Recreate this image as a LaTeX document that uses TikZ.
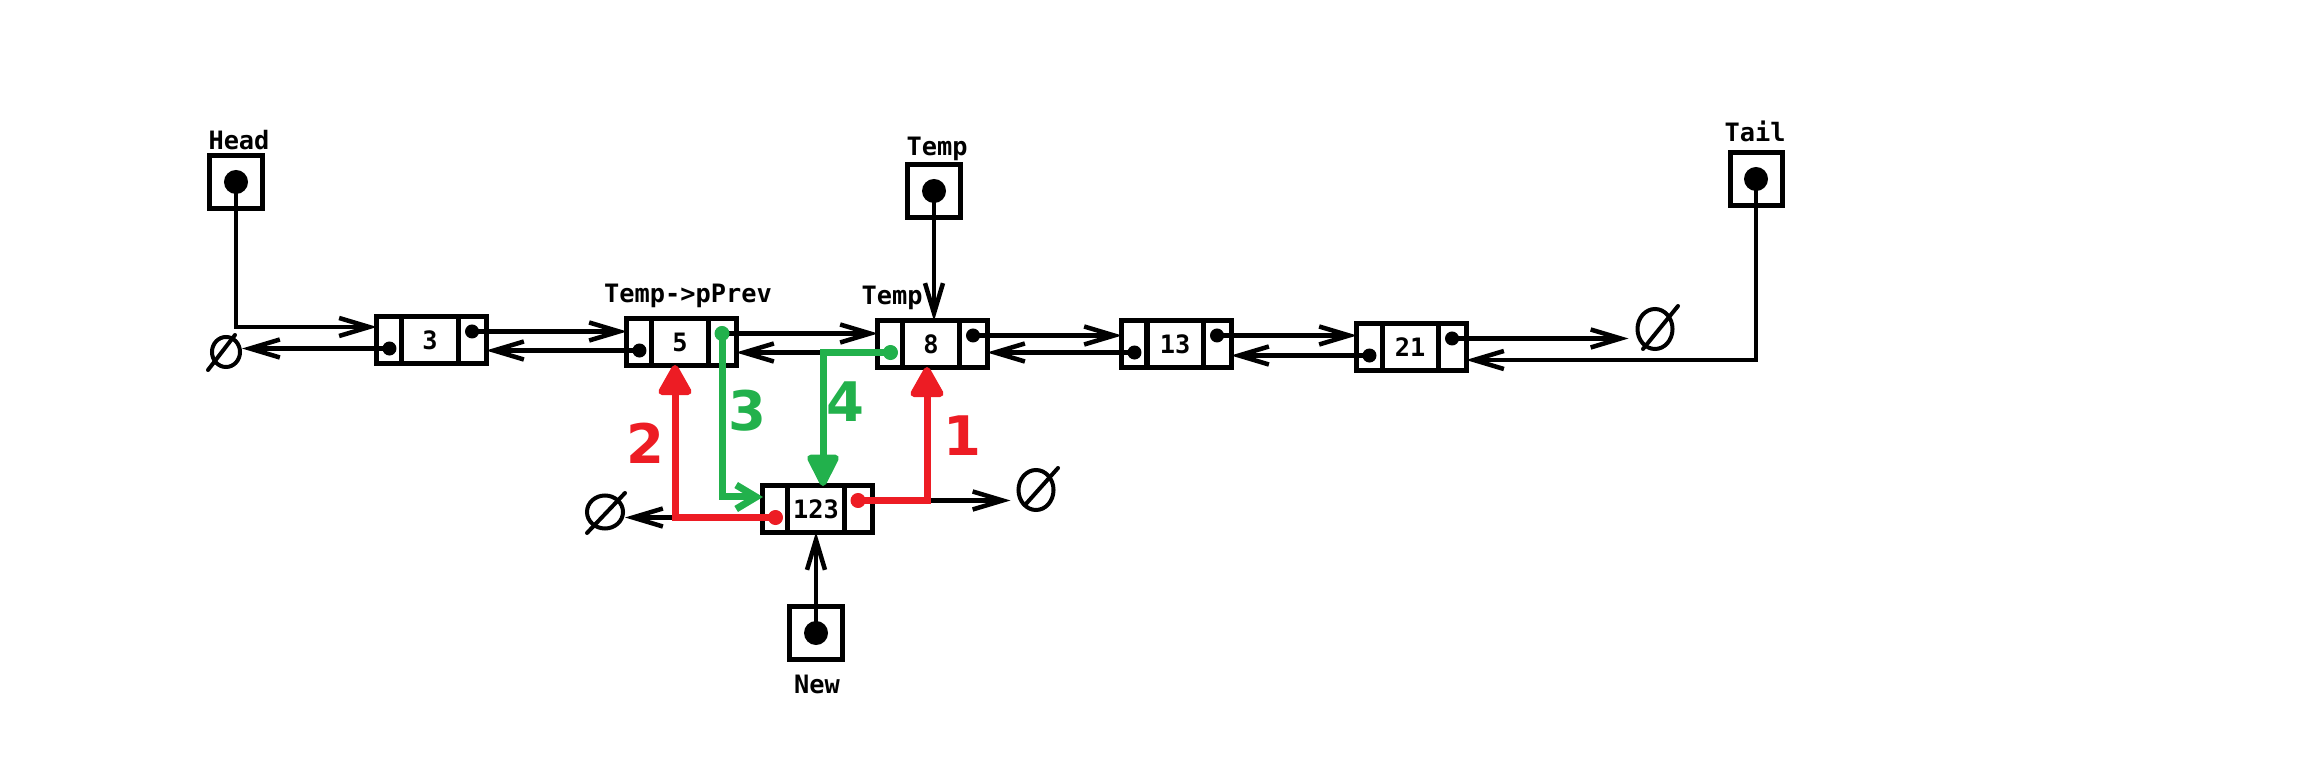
\documentclass[tikz,border=0pt]{standalone}
\usepackage{fontspec}
\newfontfamily\monofont{DejaVu Sans Mono}
\newfontfamily\handfont{DejaVu Sans}
\usetikzlibrary{arrows.meta,shapes.geometric,calc}
\definecolor{pred}{RGB}{237,28,36}
\definecolor{pgreen}{RGB}{34,177,76}
\newcommand\listnode[4]{%
  \node[midcell] (#1) at (#2,#3) {#4};
  \node[leftcell, anchor=east] (#1-l) at (#1.west) {};
  \node[rightcell, anchor=west] (#1-r) at (#1.east) {};
  \node[smalldot] (#1-ld) at ([yshift=-0.085cm]#1-l.center) {};
  \node[smalldot] (#1-rd) at ([yshift=0.085cm]#1-r.center) {};
}
\begin{document}
\begin{tikzpicture}[x=0.01cm,y=-0.01cm,
  cellbox/.style={draw, line width=0.05cm, minimum height=0.46cm, inner sep=0pt, outer sep=0pt},
  midcell/.style={cellbox, minimum width=0.56cm, font=\monofont\bfseries\fontsize{7.2}{9}\selectfont},
  leftcell/.style={cellbox, minimum width=0.25cm},
  rightcell/.style={cellbox, minimum width=0.28cm},
  ptrbox/.style={draw, line width=0.05cm, minimum size=0.52cm, inner sep=0pt, outer sep=0pt},
  bigdot/.style={circle, fill, inner sep=0pt, minimum size=0.24cm},
  smalldot/.style={circle, fill, inner sep=0pt, minimum size=0.14cm},
  lbl/.style={font=\monofont\bfseries\fontsize{7.2}{9}\selectfont, inner sep=0pt, anchor=base},
  nullsym/.style={ellipse, draw, line width=0.04cm, inner sep=0pt},
  nullslash/.style={line width=0.04cm, line cap=round},
  link/.style={line width=0.045cm, -{Straight Barb[length=0.3cm,width=0.18cm]}},
  redlink/.style={pred, line width=0.07cm, -{Triangle[length=0.34cm,width=0.36cm,round]}},
  greenfill/.style={pgreen, line width=0.07cm, -{Triangle[length=0.36cm,width=0.34cm,round]}},
  greenbarb/.style={pgreen, line width=0.07cm, -{Straight Barb[length=0.2cm,width=0.24cm]}},
  digit/.style={font=\handfont\bfseries\fontsize{15.5}{16}\selectfont, inner sep=0pt}
]
\useasboundingbox (0,0) rectangle (2300,758);

% list nodes
\listnode{n3}{430}{340}{3}
\listnode{n5}{680}{342}{5}
\listnode{n8}{931}{344}{8}
\listnode{n13}{1175}{344}{13}
\listnode{n21}{1410}{347}{21}
\listnode{n123}{816}{509}{123}

% pointer boxes
\node[ptrbox] (head) at (236,182) {};
\node[bigdot] (headdot) at (head.center) {};
\node[ptrbox] (temp) at (934,191) {};
\node[bigdot] (tempdot) at (temp.center) {};
\node[ptrbox] (tail) at (1756,179) {};
\node[bigdot] (taildot) at (tail.center) {};
\node[ptrbox] (new) at (816,633) {};
\node[bigdot] (newdot) at (new.center) {};

% labels
\node[lbl] (headlbl) at (239,150) {Head};
\node[lbl] (templbl) at (937,156) {Temp};
\node[lbl] (taillbl) at (1755,142) {Tail};
\node[lbl] (newlbl) at (817,693) {New};
\node[lbl] (temp8lbl) at (892,305) {Temp};
\node[lbl] (prevlbl) at (688,303) {Temp->pPrev};

% null symbols
\node[nullsym, minimum width=0.28cm, minimum height=0.30cm] (null1) at (226,352) {};
\draw[nullslash] (208,370) -- (235,335);
\node[nullsym, minimum width=0.35cm, minimum height=0.40cm] (null2) at (1655,329) {};
\draw[nullslash] (1643,349) -- (1678,306);
\node[nullsym, minimum width=0.36cm, minimum height=0.33cm] (null3) at (605,512) {};
\draw[nullslash] (587,533) -- (625,493);
\node[nullsym, minimum width=0.35cm, minimum height=0.40cm] (null4) at (1036,490) {};
\draw[nullslash] (1025,505) -- (1058,468);

% black links
\draw[link] (headdot.center) |- ([yshift=0.13cm]n3-l.west);
\draw[link] (n3-ld.center) -- (n3-ld.center -| null1.east);
\draw[link] (n3-rd.center) -- (n3-rd.center -| n5-l.west);
\draw[link] (n5-ld.center) -- (n5-ld.center -| n3-r.east);
\draw[link] (n5-rd.center) -- (n5-rd.center -| n8-l.west);
\draw[link] (n8-ld.center) -- (n8-ld.center -| n5-r.east);
\draw[link] (n8-rd.center) -- (n8-rd.center -| n13-l.west);
\draw[link] (n13-ld.center) -- (n13-ld.center -| n8-r.east);
\draw[link] (n13-rd.center) -- (n13-rd.center -| n21-l.west);
\draw[link] (n21-ld.center) -- (n21-ld.center -| n13-r.east);
\draw[link, shorten >=0.07cm] (n21-rd.center) -- (n21-rd.center -| null2.west);
\draw[link] (taildot.center) |- ([yshift=-0.13cm]n21-r.east);
\draw[link] (tempdot.center) -- (tempdot.center |- n8.north);
\draw[link] (newdot.center) -- (newdot.center |- n123.south);
\draw[link] (n123-ld.center) -- (n123-ld.center -| null3.east);
\draw[link, shorten >=0.06cm] (n123-rd.center) -- (n123-rd.center -| null4.west);

% red links
\draw[redlink] (n123-rd.center) -| ([xshift=-0.04cm]n8.south);
\draw[redlink] (n123-ld.center) -| ([xshift=-0.05cm]n5.south);
\node[smalldot, pred, minimum size=0.15cm] at (n123-rd) {};
\node[smalldot, pred, minimum size=0.15cm] at (n123-ld) {};

% green links
\draw[greenbarb] (n5-rd.center) |- ([yshift=0.12cm]n123-l.west);
\draw[greenfill] (n8-ld.center) -| ([xshift=0.07cm]n123.north);
\node[smalldot, pgreen, minimum size=0.15cm] at (n5-rd) {};
\node[smalldot, pgreen, minimum size=0.15cm] at (n8-ld) {};

% step numbers
\node[digit, text=pred] (s1) at (962,436) {1};
\node[digit, text=pred] (s2) at (645,443) {2};
\node[digit, text=pgreen] (s3) at (747,411) {3};
\node[digit, text=pgreen] (s4) at (845,402) {4};
\end{tikzpicture}
\end{document}
